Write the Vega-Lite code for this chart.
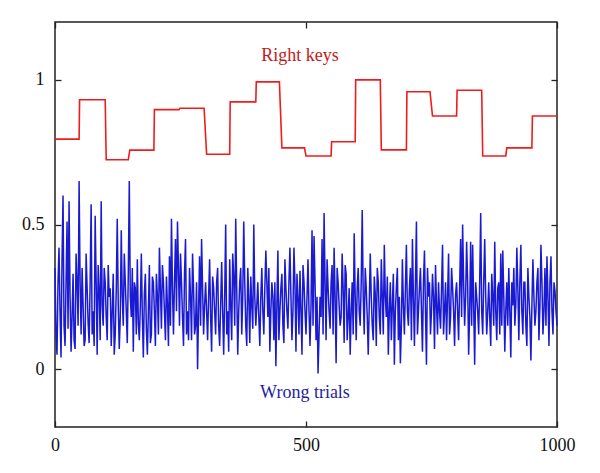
{
  "$schema": "https://vega.github.io/schema/vega-lite/v6.json",
  "width": 502,
  "height": 405,
  "autosize": {"type": "none"},
  "padding": {"left": 55, "top": 22, "right": 43, "bottom": 46},
  "config": {
    "view": {"stroke": "#222", "strokeWidth": 1.5},
    "axis": {"grid": false, "domain": false, "zindex": 1, "labelFlush": false, "labelFont": "Liberation Serif", "labelFontSize": 18, "labelColor": "#111", "tickColor": "#222", "tickWidth": 1.3, "tickSize": 6, "title": null}
  },
  "datasets": {
    "trials": [
      {"t":0,"v":0.35},{"t":4,"v":0.05},{"t":8,"v":0.42},{"t":12,"v":0.04},{"t":16,"v":0.60},{"t":20,"v":0.08},{"t":24,"v":0.51},{"t":28,"v":0.58},{"t":32,"v":0.06},{"t":36,"v":0.33},{"t":40,"v":0.07},{"t":44,"v":0.30},{"t":48,"v":0.65},{"t":52,"v":0.12},{"t":56,"v":0.22},{"t":60,"v":0.10},{"t":64,"v":0.28},{"t":68,"v":0.09},{"t":72,"v":0.57},{"t":76,"v":0.20},{"t":80,"v":0.53},{"t":84,"v":0.05},{"t":88,"v":0.27},{"t":92,"v":0.58},{"t":96,"v":0.15},
      {"t":100,"v":0.30},{"t":104,"v":0.10},{"t":108,"v":0.25},{"t":112,"v":0.08},{"t":116,"v":0.33},{"t":120,"v":0.12},{"t":124,"v":0.52},{"t":128,"v":0.07},{"t":132,"v":0.48},{"t":136,"v":0.15},{"t":140,"v":0.30},{"t":144,"v":0.09},{"t":148,"v":0.65},{"t":152,"v":0.18},{"t":156,"v":0.06},{"t":160,"v":0.28},{"t":164,"v":0.38},{"t":168,"v":0.10},{"t":172,"v":0.40},{"t":176,"v":0.04},{"t":180,"v":0.33},{"t":184,"v":0.05},{"t":188,"v":0.36},{"t":192,"v":0.12},{"t":196,"v":0.30},
      {"t":200,"v":0.08},{"t":204,"v":0.25},{"t":208,"v":0.42},{"t":212,"v":0.14},{"t":216,"v":0.30},{"t":220,"v":0.10},{"t":224,"v":0.22},{"t":228,"v":0.39},{"t":232,"v":0.52},{"t":236,"v":0.12},{"t":240,"v":0.45},{"t":244,"v":0.51},{"t":248,"v":0.15},{"t":252,"v":0.30},{"t":256,"v":0.08},{"t":260,"v":0.45},{"t":264,"v":0.20},{"t":268,"v":0.35},{"t":272,"v":0.10},{"t":276,"v":0.28},{"t":280,"v":0.15},{"t":284,"v":0.00},{"t":288,"v":0.39},{"t":292,"v":0.45},{"t":296,"v":0.12},
      {"t":300,"v":0.30},{"t":304,"v":0.10},{"t":308,"v":0.38},{"t":312,"v":0.06},{"t":316,"v":0.28},{"t":320,"v":0.12},{"t":324,"v":0.35},{"t":328,"v":0.08},{"t":332,"v":0.37},{"t":336,"v":0.05},{"t":340,"v":0.50},{"t":344,"v":0.20},{"t":348,"v":0.38},{"t":352,"v":0.10},{"t":356,"v":0.32},{"t":360,"v":0.52},{"t":364,"v":0.05},{"t":368,"v":0.30},{"t":372,"v":0.12},{"t":376,"v":0.51},{"t":380,"v":0.15},{"t":384,"v":0.35},{"t":388,"v":0.09},{"t":392,"v":0.22},{"t":396,"v":0.50},
      {"t":400,"v":0.15},{"t":404,"v":0.30},{"t":408,"v":0.08},{"t":412,"v":0.35},{"t":416,"v":0.12},{"t":420,"v":0.41},{"t":424,"v":0.18},{"t":428,"v":0.06},{"t":432,"v":0.30},{"t":436,"v":0.10},{"t":440,"v":0.01},{"t":444,"v":0.41},{"t":448,"v":0.20},{"t":452,"v":0.33},{"t":456,"v":0.09},{"t":460,"v":0.28},{"t":464,"v":0.14},{"t":468,"v":0.42},{"t":472,"v":0.10},{"t":476,"v":0.42},{"t":480,"v":0.06},{"t":484,"v":0.25},{"t":488,"v":0.34},{"t":492,"v":0.05},{"t":496,"v":0.30},
      {"t":500,"v":0.12},{"t":504,"v":0.38},{"t":508,"v":0.08},{"t":512,"v":0.48},{"t":516,"v":0.46},{"t":520,"v":0.10},{"t":524,"v":-0.015},{"t":528,"v":0.25},{"t":532,"v":0.45},{"t":536,"v":0.54},{"t":540,"v":0.10},{"t":544,"v":0.28},{"t":548,"v":0.14},{"t":552,"v":0.36},{"t":556,"v":0.42},{"t":560,"v":0.02},{"t":564,"v":0.30},{"t":568,"v":0.15},{"t":572,"v":0.40},{"t":576,"v":0.09},{"t":580,"v":0.33},{"t":584,"v":0.18},{"t":588,"v":0.05},{"t":592,"v":0.30},{"t":596,"v":0.47},
      {"t":600,"v":0.10},{"t":604,"v":0.35},{"t":608,"v":0.15},{"t":612,"v":0.55},{"t":616,"v":0.12},{"t":620,"v":0.28},{"t":624,"v":0.05},{"t":628,"v":0.40},{"t":632,"v":0.15},{"t":636,"v":0.32},{"t":640,"v":0.08},{"t":644,"v":0.30},{"t":648,"v":0.12},{"t":652,"v":0.25},{"t":656,"v":0.43},{"t":660,"v":0.18},{"t":664,"v":0.05},{"t":668,"v":0.30},{"t":672,"v":0.22},{"t":676,"v":0.015},{"t":680,"v":0.28},{"t":684,"v":0.10},{"t":688,"v":0.02},{"t":692,"v":0.38},{"t":696,"v":0.12},
      {"t":700,"v":0.43},{"t":704,"v":0.15},{"t":708,"v":0.35},{"t":712,"v":0.45},{"t":716,"v":0.08},{"t":720,"v":0.51},{"t":724,"v":0.20},{"t":728,"v":0.35},{"t":732,"v":0.06},{"t":736,"v":0.41},{"t":740,"v":0.015},{"t":744,"v":0.25},{"t":748,"v":0.12},{"t":752,"v":0.33},{"t":756,"v":0.07},{"t":760,"v":0.22},{"t":764,"v":0.30},{"t":768,"v":0.14},{"t":772,"v":0.43},{"t":776,"v":0.20},{"t":780,"v":0.10},{"t":784,"v":0.40},{"t":788,"v":0.18},{"t":792,"v":0.28},{"t":796,"v":0.08},
      {"t":800,"v":0.30},{"t":804,"v":0.10},{"t":808,"v":0.45},{"t":812,"v":0.50},{"t":816,"v":0.15},{"t":820,"v":0.44},{"t":824,"v":0.05},{"t":828,"v":0.44},{"t":832,"v":0.43},{"t":836,"v":0.015},{"t":840,"v":0.25},{"t":844,"v":0.12},{"t":848,"v":0.54},{"t":852,"v":0.12},{"t":856,"v":0.45},{"t":860,"v":0.12},{"t":864,"v":0.30},{"t":868,"v":0.08},{"t":872,"v":0.25},{"t":876,"v":0.44},{"t":880,"v":0.10},{"t":884,"v":0.30},{"t":888,"v":0.40},{"t":892,"v":0.41},{"t":896,"v":0.06},
      {"t":900,"v":0.30},{"t":904,"v":0.35},{"t":908,"v":0.04},{"t":912,"v":0.22},{"t":916,"v":0.15},{"t":920,"v":0.42},{"t":924,"v":0.10},{"t":928,"v":0.43},{"t":932,"v":0.12},{"t":936,"v":0.30},{"t":940,"v":0.08},{"t":944,"v":0.25},{"t":948,"v":0.03},{"t":952,"v":0.38},{"t":956,"v":0.15},{"t":960,"v":0.30},{"t":964,"v":0.10},{"t":968,"v":0.43},{"t":972,"v":0.12},{"t":976,"v":0.35},{"t":980,"v":0.39},{"t":984,"v":0.08},{"t":988,"v":0.39},{"t":992,"v":0.12},{"t":996,"v":0.27},{"t":1000,"v":0.15},
      {"t":2,"v":0.12},{"t":6,"v":0.30},{"t":10,"v":0.20},{"t":14,"v":0.38},{"t":18,"v":0.15},{"t":22,"v":0.30},{"t":26,"v":0.14},{"t":30,"v":0.25},{"t":34,"v":0.18},{"t":38,"v":0.10},{"t":42,"v":0.40},{"t":46,"v":0.15},{"t":50,"v":0.30},{"t":54,"v":0.35},{"t":58,"v":0.08},{"t":62,"v":0.40},{"t":66,"v":0.16},{"t":70,"v":0.30},{"t":74,"v":0.12},{"t":78,"v":0.08},{"t":82,"v":0.30},{"t":86,"v":0.36},{"t":90,"v":0.10},{"t":94,"v":0.22},{"t":98,"v":0.35},
      {"t":102,"v":0.18},{"t":106,"v":0.36},{"t":110,"v":0.28},{"t":114,"v":0.20},{"t":118,"v":0.05},{"t":122,"v":0.27},{"t":126,"v":0.22},{"t":130,"v":0.18},{"t":134,"v":0.25},{"t":138,"v":0.40},{"t":142,"v":0.20},{"t":146,"v":0.33},{"t":150,"v":0.25},{"t":154,"v":0.35},{"t":158,"v":0.30},{"t":162,"v":0.12},{"t":166,"v":0.16},{"t":170,"v":0.22},{"t":174,"v":0.18},{"t":178,"v":0.26},{"t":182,"v":0.14},{"t":186,"v":0.20},{"t":190,"v":0.09},{"t":194,"v":0.32},{"t":198,"v":0.20},
      {"t":202,"v":0.33},{"t":206,"v":0.12},{"t":210,"v":0.28},{"t":214,"v":0.36},{"t":218,"v":0.20},{"t":222,"v":0.32},{"t":226,"v":0.08},{"t":230,"v":0.15},{"t":234,"v":0.28},{"t":238,"v":0.30},{"t":242,"v":0.20},{"t":246,"v":0.35},{"t":250,"v":0.40},{"t":254,"v":0.18},{"t":258,"v":0.33},{"t":262,"v":0.12},{"t":266,"v":0.10},{"t":270,"v":0.25},{"t":274,"v":0.40},{"t":278,"v":0.12},{"t":282,"v":0.30},{"t":286,"v":0.20},{"t":290,"v":0.15},{"t":294,"v":0.28},{"t":298,"v":0.22},
      {"t":302,"v":0.20},{"t":306,"v":0.25},{"t":310,"v":0.18},{"t":314,"v":0.32},{"t":318,"v":0.20},{"t":322,"v":0.30},{"t":326,"v":0.15},{"t":330,"v":0.22},{"t":334,"v":0.20},{"t":338,"v":0.25},{"t":342,"v":0.12},{"t":346,"v":0.06},{"t":350,"v":0.22},{"t":354,"v":0.40},{"t":358,"v":0.15},{"t":362,"v":0.28},{"t":366,"v":0.20},{"t":370,"v":0.35},{"t":374,"v":0.25},{"t":378,"v":0.30},{"t":382,"v":0.08},{"t":386,"v":0.25},{"t":390,"v":0.32},{"t":394,"v":0.14},{"t":398,"v":0.25},
      {"t":402,"v":0.22},{"t":406,"v":0.18},{"t":410,"v":0.25},{"t":414,"v":0.20},{"t":418,"v":0.28},{"t":422,"v":0.30},{"t":426,"v":0.35},{"t":430,"v":0.20},{"t":434,"v":0.25},{"t":438,"v":0.30},{"t":442,"v":0.22},{"t":446,"v":0.10},{"t":450,"v":0.28},{"t":454,"v":0.15},{"t":458,"v":0.38},{"t":462,"v":0.20},{"t":466,"v":0.30},{"t":470,"v":0.25},{"t":474,"v":0.20},{"t":478,"v":0.30},{"t":482,"v":0.33},{"t":486,"v":0.12},{"t":490,"v":0.20},{"t":494,"v":0.36},{"t":498,"v":0.20},
      {"t":502,"v":0.25},{"t":506,"v":0.20},{"t":510,"v":0.22},{"t":514,"v":0.15},{"t":518,"v":0.30},{"t":522,"v":0.25},{"t":526,"v":0.12},{"t":530,"v":0.18},{"t":534,"v":0.12},{"t":538,"v":0.30},{"t":542,"v":0.38},{"t":546,"v":0.20},{"t":550,"v":0.30},{"t":554,"v":0.12},{"t":558,"v":0.25},{"t":562,"v":0.35},{"t":566,"v":0.22},{"t":570,"v":0.18},{"t":574,"v":0.28},{"t":578,"v":0.36},{"t":582,"v":0.10},{"t":586,"v":0.28},{"t":590,"v":0.20},{"t":594,"v":0.12},{"t":598,"v":0.25},
      {"t":602,"v":0.28},{"t":606,"v":0.20},{"t":610,"v":0.30},{"t":614,"v":0.25},{"t":618,"v":0.35},{"t":622,"v":0.18},{"t":626,"v":0.22},{"t":630,"v":0.25},{"t":634,"v":0.10},{"t":638,"v":0.26},{"t":642,"v":0.35},{"t":646,"v":0.18},{"t":650,"v":0.38},{"t":654,"v":0.12},{"t":658,"v":0.25},{"t":662,"v":0.32},{"t":666,"v":0.20},{"t":670,"v":0.10},{"t":674,"v":0.33},{"t":678,"v":0.20},{"t":682,"v":0.35},{"t":686,"v":0.25},{"t":690,"v":0.15},{"t":694,"v":0.22},{"t":698,"v":0.28},
      {"t":702,"v":0.20},{"t":706,"v":0.28},{"t":710,"v":0.10},{"t":714,"v":0.25},{"t":718,"v":0.30},{"t":722,"v":0.12},{"t":726,"v":0.28},{"t":730,"v":0.20},{"t":734,"v":0.30},{"t":738,"v":0.20},{"t":742,"v":0.35},{"t":746,"v":0.30},{"t":750,"v":0.20},{"t":754,"v":0.25},{"t":758,"v":0.36},{"t":762,"v":0.12},{"t":766,"v":0.20},{"t":770,"v":0.28},{"t":774,"v":0.12},{"t":778,"v":0.30},{"t":782,"v":0.25},{"t":786,"v":0.12},{"t":790,"v":0.35},{"t":794,"v":0.20},{"t":798,"v":0.26},
      {"t":802,"v":0.20},{"t":806,"v":0.28},{"t":810,"v":0.18},{"t":814,"v":0.30},{"t":818,"v":0.25},{"t":822,"v":0.30},{"t":826,"v":0.20},{"t":830,"v":0.15},{"t":834,"v":0.22},{"t":838,"v":0.30},{"t":842,"v":0.20},{"t":846,"v":0.30},{"t":850,"v":0.20},{"t":854,"v":0.30},{"t":858,"v":0.25},{"t":862,"v":0.20},{"t":866,"v":0.18},{"t":870,"v":0.33},{"t":874,"v":0.15},{"t":878,"v":0.20},{"t":882,"v":0.28},{"t":886,"v":0.12},{"t":890,"v":0.15},{"t":894,"v":0.25},{"t":898,"v":0.20},
      {"t":902,"v":0.15},{"t":906,"v":0.20},{"t":910,"v":0.30},{"t":914,"v":0.35},{"t":918,"v":0.22},{"t":922,"v":0.28},{"t":926,"v":0.30},{"t":930,"v":0.20},{"t":934,"v":0.30},{"t":938,"v":0.15},{"t":942,"v":0.35},{"t":946,"v":0.18},{"t":950,"v":0.22},{"t":954,"v":0.25},{"t":958,"v":0.20},{"t":962,"v":0.35},{"t":966,"v":0.22},{"t":970,"v":0.30},{"t":974,"v":0.20},{"t":978,"v":0.15},{"t":982,"v":0.25},{"t":986,"v":0.30},{"t":990,"v":0.20},{"t":994,"v":0.30},{"t":998,"v":0.20}
    ],
    "keys": [
      {"t":0,"v":0.795},{"t":48,"v":0.795},{"t":49,"v":0.931},{"t":100,"v":0.931},{"t":102,"v":0.724},{"t":146,"v":0.724},{"t":149,"v":0.757},{"t":197,"v":0.757},{"t":198,"v":0.897},{"t":247,"v":0.897},{"t":249,"v":0.902},{"t":297,"v":0.902},{"t":302,"v":0.743},{"t":348,"v":0.743},{"t":349,"v":0.924},{"t":400,"v":0.924},{"t":401,"v":0.993},{"t":447,"v":0.993},{"t":452,"v":0.765},{"t":497,"v":0.765},{"t":500,"v":0.737},{"t":550,"v":0.737},{"t":551,"v":0.786},{"t":598,"v":0.786},{"t":599,"v":1.0},{"t":648,"v":1.0},{"t":650,"v":0.758},{"t":700,"v":0.758},{"t":701,"v":0.959},{"t":747,"v":0.959},{"t":752,"v":0.875},{"t":800,"v":0.875},{"t":801,"v":0.964},{"t":850,"v":0.964},{"t":852,"v":0.737},{"t":898,"v":0.737},{"t":900,"v":0.765},{"t":950,"v":0.765},{"t":951,"v":0.875},{"t":1000,"v":0.875}
    ],
    "labels": [
      {"t":488,"v":1.083,"label":"Right keys"},
      {"t":498,"v":-0.083,"label":"Wrong trials"}
    ]
  },
  "layer": [
    {
      "data": {"name": "trials"},
      "mark": {"type": "line", "color": "#1a1ad2", "strokeWidth": 1.5},
      "encoding": {
        "x": {"field": "t", "type": "quantitative", "scale": {"domain": [0, 1000], "nice": false, "zero": false}, "axis": {"orient": "bottom", "values": [0, 500, 1000], "format": "d", "ticks": false, "labelPadding": 9}},
        "y": {"field": "v", "type": "quantitative", "scale": {"domain": [-0.2, 1.2], "nice": false, "zero": false}, "axis": {"orient": "left", "values": [0, 0.5, 1], "format": "~g", "ticks": false, "labelPadding": 11}}
      }
    },
    {
      "data": {"name": "keys"},
      "mark": {"type": "line", "color": "#f01c1c", "strokeWidth": 1.6},
      "encoding": {
        "x": {"field": "t", "type": "quantitative", "axis": {"orient": "top", "values": [0, 500, 1000], "offset": -6, "labels": false}},
        "y": {"field": "v", "type": "quantitative", "axis": {"orient": "right", "values": [0, 0.5, 1], "offset": -6, "labels": false}}
      }
    },
    {
      "data": {"name": "labels"},
      "mark": {"type": "text", "font": "Liberation Serif", "fontSize": 18, "align": "center", "baseline": "middle"},
      "encoding": {
        "x": {"field": "t", "type": "quantitative", "axis": {"orient": "bottom", "values": [0, 500, 1000], "offset": -6, "labels": false}},
        "y": {"field": "v", "type": "quantitative", "axis": {"orient": "left", "values": [0, 0.5, 1], "offset": -6, "labels": false}},
        "text": {"field": "label"},
        "color": {"field": "label", "type": "nominal", "scale": {"domain": ["Right keys", "Wrong trials"], "range": ["#c41a1a", "#1e1e9c"]}, "legend": null}
      }
    }
  ],
  "resolve": {"axis": {"x": "independent", "y": "independent"}}
}
